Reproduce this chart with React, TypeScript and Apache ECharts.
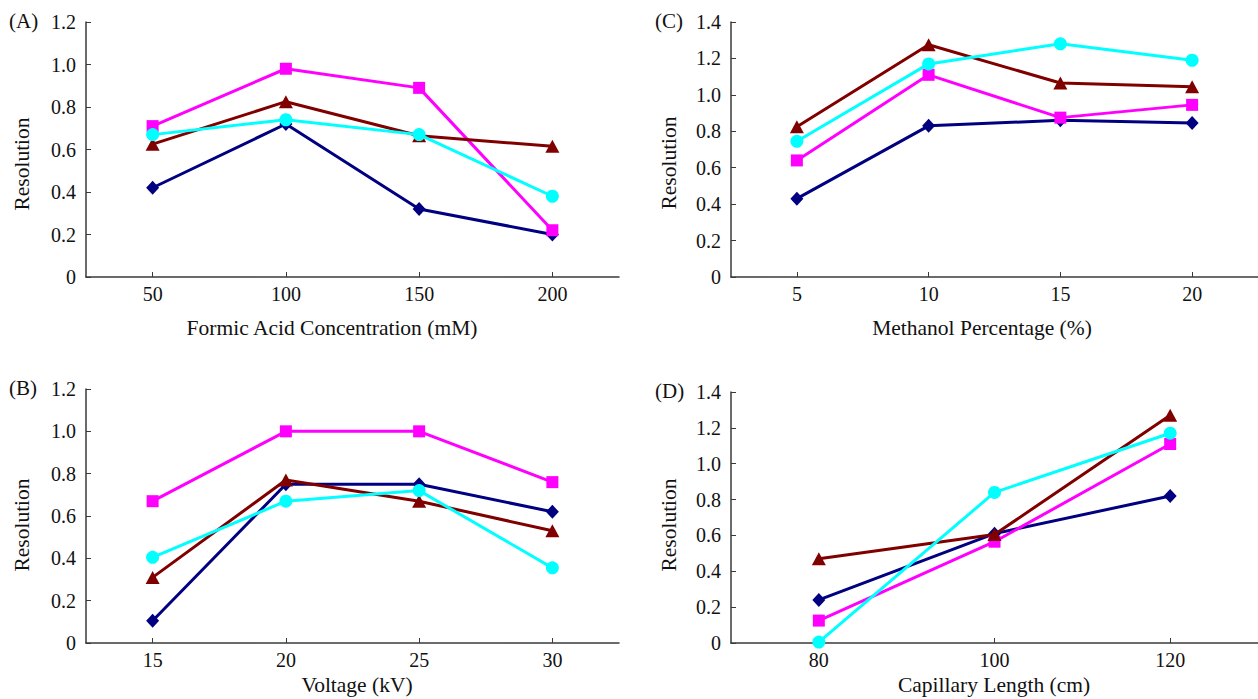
import React, { useEffect, useRef } from "react";
import * as echarts from "echarts";

const catsA = ["50", "100", "150", "200"];
const catsB = ["15", "20", "25", "30"];
const catsC = ["5", "10", "15", "20"];
const catsD = ["80", "100", "120"];

const navyA = [0.42, 0.72, 0.32, 0.2];
const magentaA = [0.71, 0.98, 0.89, 0.22];
const brownA = [0.625, 0.825, 0.665, 0.615];
const cyanA = [0.67, 0.74, 0.67, 0.38];

const navyB = [0.105, 0.75, 0.75, 0.62];
const magentaB = [0.67, 1.0, 1.0, 0.76];
const brownB = [0.31, 0.77, 0.67, 0.53];
const cyanB = [0.405, 0.67, 0.72, 0.355];

const navyC = [0.43, 0.83, 0.86, 0.845];
const magentaC = [0.64, 1.11, 0.875, 0.945];
const brownC = [0.825, 1.275, 1.065, 1.045];
const cyanC = [0.745, 1.17, 1.28, 1.19];

const navyD = [0.24, 0.61, 0.82];
const magentaD = [0.125, 0.565, 1.11];
const brownD = [0.47, 0.605, 1.27];
const cyanD = [0.005, 0.84, 1.17];

const yMaxes = [1.2, 1.2, 1.4, 1.4];

const FONT = "Liberation Serif";
const NAVY = "#000080";
const MAGENTA = "#ff00ff";
const BROWN = "#800000";
const CYAN = "#00ffff";
const AXIS = "#3a3a3a";

export default function App() {
  const ref = useRef<HTMLDivElement>(null);
  useEffect(() => {
    if (!ref.current) return;
    const chart = echarts.init(ref.current, null, { renderer: "svg" });
    const grids = [
      { left: 86, top: 22, width: 533, height: 255 },
      { left: 86, top: 389, width: 533, height: 254 },
      { left: 731, top: 22, width: 533, height: 255 },
      { left: 731, top: 392, width: 533, height: 251 },
    ];
    const catList = [catsA, catsB, catsC, catsD];
    const dataSets = [
      [navyA, magentaA, brownA, cyanA],
      [navyB, magentaB, brownB, cyanB],
      [navyC, magentaC, brownC, cyanC],
      [navyD, magentaD, brownD, cyanD],
    ];
    const styles = [
      { color: NAVY, symbol: "diamond", size: [13, 14] },
      { color: MAGENTA, symbol: "rect", size: 12 },
      { color: BROWN, symbol: "triangle", size: [14, 13] },
      { color: CYAN, symbol: "circle", size: 13 },
    ];
    const series: any[] = [];
    dataSets.forEach((set, gi) => {
      set.forEach((vals, si) => {
        const st = styles[si];
        series.push({
          type: "line",
          xAxisIndex: gi,
          yAxisIndex: gi,
          data: vals,
          symbol: st.symbol,
          symbolSize: st.size,
          showAllSymbol: true,
          lineStyle: { color: st.color, width: 3 },
          itemStyle: { color: st.color },
          z: 2 + si,
        });
      });
    });
    const titleStyle = { fontFamily: FONT, fontSize: 21.5, fill: "#111" };
    const labelStyle = { fontFamily: FONT, fontSize: 21, fill: "#111" };
    const option: any = {
      animation: false,
      backgroundColor: "#ffffff",
      grid: grids.map((g) => ({ ...g, containLabel: false })),
      xAxis: catList.map((c, i) => ({
        type: "category",
        gridIndex: i,
        data: c,
        boundaryGap: true,
        axisLine: { lineStyle: { color: AXIS, width: 1.5 } },
        axisTick: { show: true, inside: true, alignWithLabel: true, length: 5, lineStyle: { color: AXIS } },
        axisLabel: { fontFamily: FONT, fontSize: 20, color: "#111", margin: 7 },
        splitLine: { show: false },
      })),
      yAxis: yMaxes.map((m, i) => ({
        type: "value",
        gridIndex: i,
        min: 0,
        max: m,
        interval: 0.2,
        axisLine: { show: true, lineStyle: { color: AXIS, width: 1.5 } },
        axisTick: { show: true, inside: true, length: 5, lineStyle: { color: AXIS } },
        axisLabel: {
          fontFamily: FONT,
          fontSize: 20,
          color: "#111",
          margin: 10,
          formatter: (v: number) => (v === 0 ? "0" : v.toFixed(1)),
        },
        splitLine: { show: false },
      })),
      series,
      graphic: [
        { type: "text", left: 9, top: 10, style: { ...labelStyle, text: "(A)" } },
        { type: "text", left: 9, top: 377, style: { ...labelStyle, text: "(B)" } },
        { type: "text", left: 655, top: 10, style: { ...labelStyle, text: "(C)" } },
        { type: "text", left: 655, top: 380, style: { ...labelStyle, text: "(D)" } },
        { type: "text", x: 332, y: 328, style: { ...titleStyle, text: "Formic Acid Concentration (mM)", align: "center", verticalAlign: "middle" } },
        { type: "text", x: 357, y: 685, style: { ...titleStyle, text: "Voltage (kV)", align: "center", verticalAlign: "middle" } },
        { type: "text", x: 982, y: 328, style: { ...titleStyle, text: "Methanol Percentage (%)", align: "center", verticalAlign: "middle" } },
        { type: "text", x: 994, y: 685, style: { ...titleStyle, text: "Capillary Length (cm)", align: "center", verticalAlign: "middle" } },
        { type: "text", x: 22, y: 164, rotation: Math.PI / 2, style: { ...titleStyle, text: "Resolution", align: "center", verticalAlign: "middle" } },
        { type: "text", x: 22, y: 525, rotation: Math.PI / 2, style: { ...titleStyle, text: "Resolution", align: "center", verticalAlign: "middle" } },
        { type: "text", x: 669, y: 163, rotation: Math.PI / 2, style: { ...titleStyle, text: "Resolution", align: "center", verticalAlign: "middle" } },
        { type: "text", x: 669, y: 525, rotation: Math.PI / 2, style: { ...titleStyle, text: "Resolution", align: "center", verticalAlign: "middle" } },
      ],
    };
    chart.setOption(option);
    return () => chart.dispose();
  }, []);
  return (
    <div
      ref={ref}
      style={{ position: "fixed", left: 0, top: 0, width: 1258, height: 699, background: "#fff" }}
    />
  );
}
